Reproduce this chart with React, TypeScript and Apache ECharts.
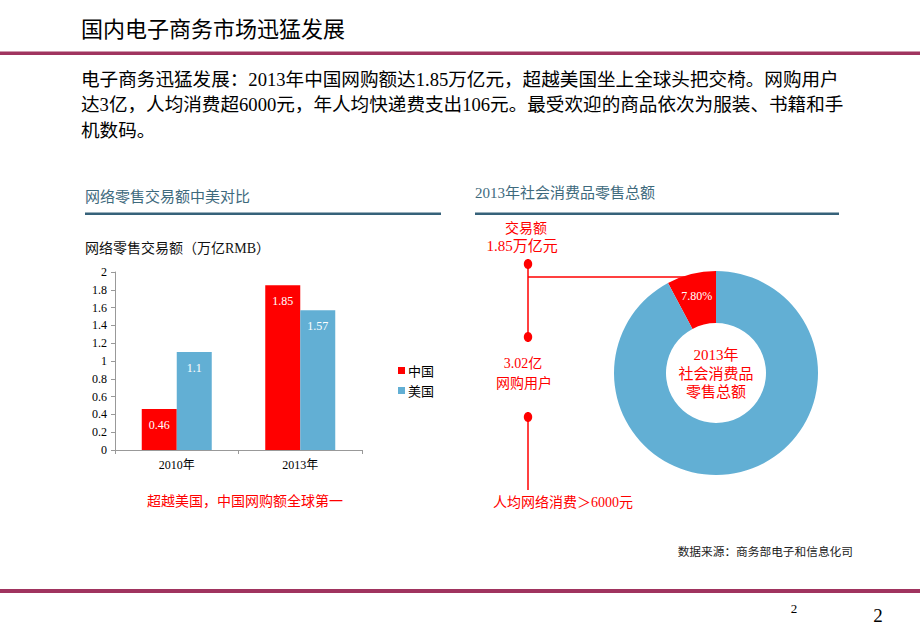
import React, { useEffect, useRef } from "react";
import * as echarts from "echarts";

const categories = ["2010年", "2013年"];
const seriesNames = ["中国", "美国"];
const chinaValues = [0.46, 1.85];
const usValues = [1.1, 1.57];
const shareNames = ["网络零售交易额", "其他"];
const shareValues = [7.8, 92.2];

const titleText = "国内电子商务市场迅猛发展";
const paragraphLines = [
  "电子商务迅猛发展：2013年中国网购额达1.85万亿元，超越美国坐上全球头把交椅。网购用户",
  "达3亿，人均消费超6000元，年人均快递费支出106元。最受欢迎的商品依次为服装、书籍和手",
  "机数码。",
];
const centerLines = ["2013年", "社会消费品", "零售总额"];

const MIX = '"Liberation Serif", "Noto Sans CJK SC", serif';
const SANS = '"Noto Sans CJK SC", "Noto Sans", sans-serif';
const SERIF = '"Liberation Serif", serif';
const RED = "#FF0000";
const BLUE = "#62AFD4";
const MAGENTA = "#A0345F";
const SLATE = "#3E6A7D";
const SLATE_LINE = "#36627A";

export default function App() {
  const ref = useRef<HTMLDivElement>(null);
  useEffect(() => {
    if (!ref.current) return;
    const chart = echarts.init(ref.current, null, { renderer: "svg" });

    const graphics: any[] = [
      { type: "rect", shape: { x: 0, y: 51.5, width: 920, height: 3.5 }, style: { fill: MAGENTA }, silent: true },
      { type: "rect", shape: { x: 0, y: 589, width: 920, height: 4 }, style: { fill: MAGENTA }, silent: true },
      { type: "text", x: 81, y: 27, style: { text: titleText, font: `22px ${SANS}`, fill: "#000", textVerticalAlign: "middle" } },
      ...paragraphLines.map((t, i) => ({
        type: "text",
        x: 81,
        y: 79 + i * 25.5,
        style: { text: t, font: `18.6px ${MIX}`, fill: "#000", textVerticalAlign: "middle" },
      })),
      // section headers
      { type: "text", x: 85, y: 195, style: { text: "网络零售交易额中美对比", font: `15px ${SANS}`, fill: SLATE, textVerticalAlign: "middle" } },
      { type: "rect", shape: { x: 85, y: 212.5, width: 356, height: 2.5 }, style: { fill: SLATE_LINE } },
      { type: "text", x: 475, y: 193, style: { text: "2013年社会消费品零售总额", font: `15px ${MIX}`, fill: SLATE, textVerticalAlign: "middle" } },
      { type: "rect", shape: { x: 475, y: 212.5, width: 364, height: 2.5 }, style: { fill: SLATE_LINE } },
      // bar chart title and caption
      { type: "text", x: 85, y: 248, style: { text: "网络零售交易额（万亿RMB）", font: `14px ${MIX}`, fill: "#111", textVerticalAlign: "middle" } },
      { type: "text", x: 245, y: 500, style: { text: "超越美国，中国网购额全球第一", font: `14px ${SANS}`, fill: RED, textAlign: "center", textVerticalAlign: "middle" } },
      // annotation column
      { type: "line", shape: { x1: 528, y1: 264, x2: 528, y2: 337 }, style: { stroke: RED, lineWidth: 1.5 } },
      { type: "line", shape: { x1: 528, y1: 277, x2: 700, y2: 277 }, style: { stroke: RED, lineWidth: 1.5 } },
      { type: "line", shape: { x1: 528, y1: 417, x2: 528, y2: 490 }, style: { stroke: RED, lineWidth: 1.5 } },
      { type: "ellipse", shape: { cx: 528, cy: 264, rx: 4.2, ry: 5 }, style: { fill: RED } },
      { type: "ellipse", shape: { cx: 528, cy: 337, rx: 4.2, ry: 5 }, style: { fill: RED } },
      { type: "ellipse", shape: { cx: 528, cy: 417, rx: 4.2, ry: 5 }, style: { fill: RED } },
      { type: "text", x: 526, y: 227, style: { text: "交易额", font: `14px ${SANS}`, fill: RED, textAlign: "center", textVerticalAlign: "middle" } },
      { type: "text", x: 522, y: 246, style: { text: "1.85万亿元", font: `15px ${MIX}`, fill: RED, textAlign: "center", textVerticalAlign: "middle" } },
      { type: "text", x: 523, y: 363, style: { text: "3.02亿", font: `14px ${MIX}`, fill: RED, textAlign: "center", textVerticalAlign: "middle" } },
      { type: "text", x: 524, y: 382, style: { text: "网购用户", font: `14px ${SANS}`, fill: RED, textAlign: "center", textVerticalAlign: "middle" } },
      { type: "text", x: 493, y: 502, style: { text: "人均网络消费＞6000元", font: `14px ${MIX}`, fill: RED, textVerticalAlign: "middle" } },
      // donut center
      ...centerLines.map((t, i) => ({
        type: "text",
        x: 716,
        y: 355 + i * 18.5,
        style: { text: t, font: `15px ${MIX}`, fill: RED, textAlign: "center", textVerticalAlign: "middle" },
      })),
      // footer
      { type: "text", x: 853, y: 550, style: { text: "数据来源：商务部电子和信息化司", font: `11.7px ${SANS}`, fill: "#222", textAlign: "right", textVerticalAlign: "middle" } },
      { type: "text", x: 794, y: 608, style: { text: "2", font: `13px ${SERIF}`, fill: "#000", textAlign: "center", textVerticalAlign: "middle" } },
      { type: "text", x: 878, y: 615, style: { text: "2", font: `19px ${SERIF}`, fill: "#000", textAlign: "center", textVerticalAlign: "middle" } },
    ];

    const option: any = {
      animation: false,
      backgroundColor: "#fff",
      grid: { left: 115, top: 272, width: 247, height: 178, containLabel: false },
      legend: {
        data: seriesNames,
        orient: "vertical",
        left: 393,
        top: 359,
        itemWidth: 7,
        itemHeight: 7,
        itemGap: 7,
        icon: "rect",
        textStyle: { fontFamily: SANS, fontSize: 13, color: "#000", padding: [0, 0, 0, -2] },
      },
      xAxis: {
        type: "category",
        data: categories,
        axisLine: { lineStyle: { color: "#999" } },
        axisTick: { show: true, length: 4, lineStyle: { color: "#999" } },
        axisLabel: { fontFamily: MIX, fontSize: 12, color: "#000", margin: 9 },
      },
      yAxis: {
        type: "value",
        min: 0,
        max: 2,
        interval: 0.2,
        axisLine: { show: true, lineStyle: { color: "#999" } },
        axisTick: { show: true, length: 4, lineStyle: { color: "#999" } },
        splitLine: { show: false },
        axisLabel: { fontFamily: SERIF, fontSize: 12, color: "#000", margin: 8 },
      },
      series: [
        {
          name: seriesNames[0],
          type: "bar",
          data: chinaValues,
          barWidth: 35,
          barGap: "0%",
          itemStyle: { color: RED },
          label: { show: true, position: "insideTop", distance: 10, color: "#fff", fontFamily: SERIF, fontSize: 12 },
        },
        {
          name: seriesNames[1],
          type: "bar",
          data: usValues,
          barWidth: 35,
          barGap: "0%",
          itemStyle: { color: BLUE },
          label: { show: true, position: "insideTop", distance: 10, color: "#fff", fontFamily: SERIF, fontSize: 12 },
        },
        {
          name: "share",
          type: "pie",
          center: [716, 373],
          radius: [50, 102],
          startAngle: 90,
          clockwise: false,
          silent: true,
          labelLine: { show: false },
          data: shareNames.map((n, i) => ({
            name: n,
            value: shareValues[i],
            itemStyle: { color: i === 0 ? RED : BLUE },
            label: i === 0
              ? { show: true, position: "inside", formatter: (p: any) => p.value.toFixed(2) + "%", color: "#fff", fontFamily: SERIF, fontSize: 12 }
              : { show: false },
          })),
        },
      ],
      graphic: graphics,
    };
    chart.setOption(option);
    return () => chart.dispose();
  }, []);
  return <div ref={ref} style={{ position: "absolute", left: 0, top: 0, width: 920, height: 637 }} />;
}
